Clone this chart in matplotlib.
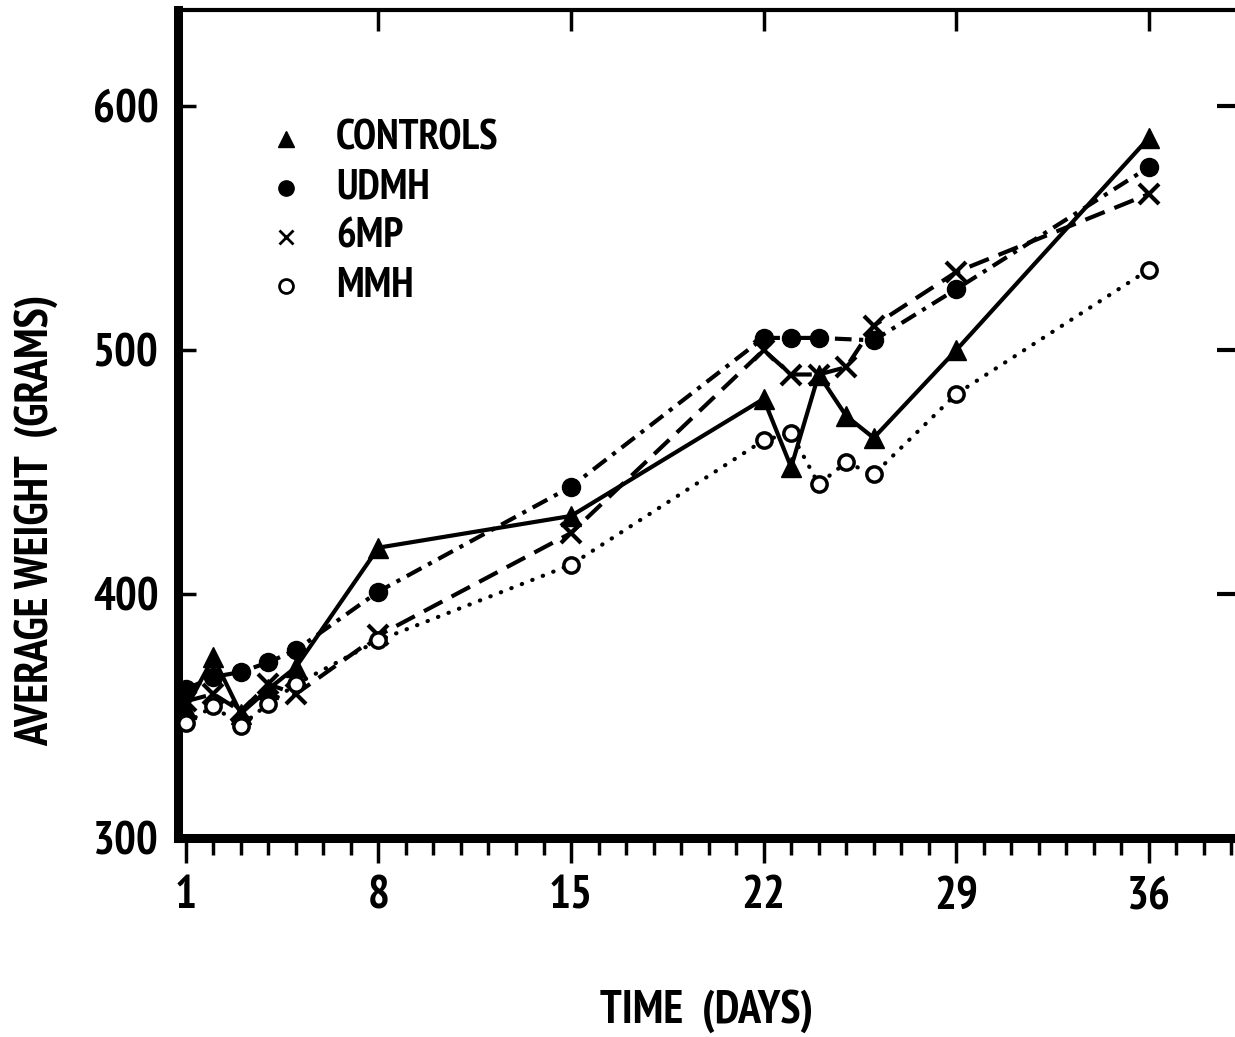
"""
Average weight vs time for four treatment groups
"""
import matplotlib
matplotlib.use("Agg")
import matplotlib.pyplot as plt
from matplotlib import font_manager
from matplotlib.ticker import MultipleLocator, FixedLocator


def peso(w):
    if isinstance(w, str):
        return font_manager.weight_dict.get(w, 400)
    return w


# buscar una fuente estrecha en negrita (la original es condensada)
estrechas = [f for f in font_manager.fontManager.ttflist
             if ('Narrow' in f.name or 'Condensed' in f.name
                 or f.stretch in ('condensed', 'semi-condensed', 'extra-condensed'))
             and peso(f.weight) >= 600]
if estrechas:
    elegida = sorted(estrechas, key=lambda f: (abs(peso(f.weight) - 700), 'Narrow' not in f.name, f.name))[0]
    plt.rcParams['font.family'] = [elegida.name, 'DejaVu Sans']
    plt.rcParams['font.stretch'] = elegida.stretch
    plt.rcParams['font.weight'] = peso(elegida.weight)
    escala = 1.0
else:
    plt.rcParams['font.family'] = ['DejaVu Sans']
    plt.rcParams['font.weight'] = 'bold'
    escala = 0.8

# data
dias = [1, 2, 3, 4, 5, 8, 15, 22, 23, 24, 25, 26, 29, 36]
controls = [353, 374, 351, 361, 370, 419, 432, 480, 452, 490, 473, 464, 500, 587]
dias_udmh = [1, 2, 3, 4, 5, 8, 15, 22, 23, 24, 26, 29, 36]
udmh = [361, 366, 368, 372, 377, 401, 444, 505, 505, 505, 504, 525, 575]
mp6 = [356, 359, 352, 363, 359, 383, 425, 500, 490, 490, 493, 510, 532, 564]
mmh = [347, 354, 346, 355, 363, 381, 412, 463, 466, 445, 454, 449, 482, 533]

ticks_x = [1, 8, 15, 22, 29, 36]
ticks_y = [300, 400, 500, 600]
etiquetas = ["CONTROLS", "UDMH", "6MP", "MMH"]

fig = plt.figure(figsize=(12.35, 10.37), dpi=100)
ax = fig.add_axes([0.144, 0.192, 0.862, 0.798])

ax.plot(dias, controls, '-', color='black', lw=3, marker='^', ms=15, zorder=4)
ax.plot(dias_udmh, udmh, color='black', lw=3, linestyle=(0, (4, 1.8, 1, 1.8)),
        marker='o', ms=13, zorder=4)
ax.plot(dias, mp6, color='black', lw=3, linestyle=(0, (5, 2.5)),
        marker='x', ms=14, mew=3, zorder=4)
ax.plot(dias, mmh, color='black', lw=3, linestyle=(0, (0.1, 2.6)), dash_capstyle='round',
        marker='o', ms=11, mfc='white', mew=2.5, zorder=4)

ax.set_xlim(0.71, 39.4)
ax.set_ylim(300, 639.3)

# ejes
ax.spines['right'].set_visible(False)
ax.spines['left'].set_linewidth(6.5)
ax.spines['bottom'].set_linewidth(6.5)
ax.spines['top'].set_linewidth(3)

fs = 33 * escala
ax.xaxis.set_major_locator(FixedLocator(ticks_x))
ax.xaxis.set_minor_locator(MultipleLocator(1))
ax.tick_params(axis='x', which='major', direction='out', length=18, width=2.5,
               labelsize=fs, pad=9)
ax.tick_params(axis='x', which='minor', direction='out', length=12, width=2.5)
ax.set_yticks(ticks_y)
ax.tick_params(axis='y', direction='in', length=13, width=2.5, labelsize=fs, pad=14)

# ticks arriba y a la derecha
sec_x = ax.secondary_xaxis('top')
sec_x.set_xticks(ticks_x[1:])
sec_x.tick_params(direction='in', length=15, width=2.5, labeltop=False)
sec_x.spines['top'].set_visible(False)
sec_y = ax.secondary_yaxis('right')
sec_y.set_yticks(ticks_y[1:])
sec_y.tick_params(direction='in', length=18, width=3, labelright=False)
sec_y.spines['right'].set_visible(False)

fig.text(707 / 1235, 1 - 1011 / 1037, "TIME  (DAYS)", fontsize=fs, va='center', ha='center')
fig.text(36 / 1235, 1 - 520 / 1037, "AVERAGE WEIGHT  (GRAMS)", fontsize=fs,
         va='center', ha='center', rotation=90)

# leyenda
estilos = [dict(marker='^', ms=12, color='black'),
           dict(marker='o', ms=11, color='black'),
           dict(marker='x', ms=10, mew=2, color='black'),
           dict(marker='o', ms=10, mfc='white', mew=2, color='black')]
for i, (etq, st) in enumerate(zip(etiquetas, estilos)):
    yy = 0.844 - i * 0.0592
    ax.plot([0.1015], [yy], transform=ax.transAxes, linestyle='none', clip_on=False, **st)
    ax.text(0.1485, yy, etq, transform=ax.transAxes, fontsize=30 * escala,
            va='center', ha='left')

fig.savefig("out.png", dpi=100)
